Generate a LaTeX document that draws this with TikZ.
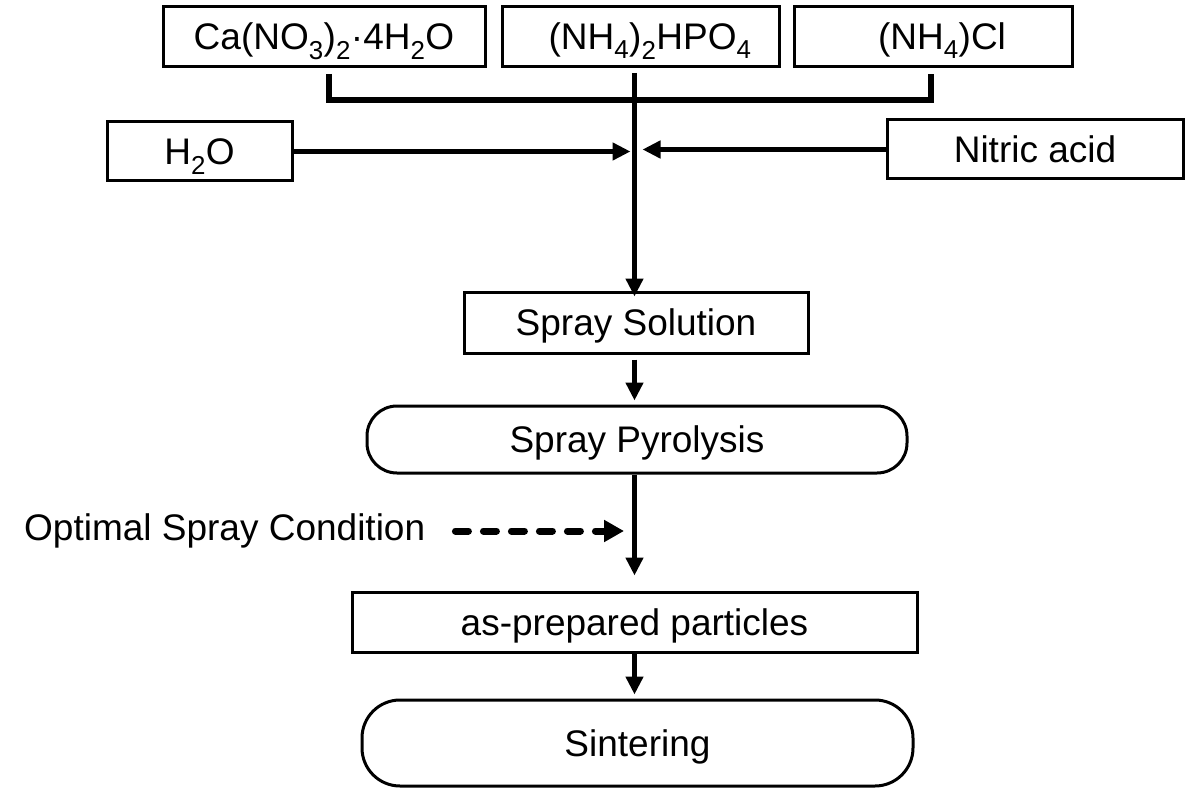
\documentclass[tikz,border=0pt]{standalone}
\usepackage{fontspec}
\setmainfont{Liberation Sans}
\usetikzlibrary{arrows.meta}
\begin{document}
\begin{tikzpicture}[x=1pt,y=-1pt,
  every node/.style={font=\fontsize{37}{40}\selectfont, inner sep=0pt},
  box/.style={draw, line width=3pt, rectangle, text height=26.5pt, text depth=0pt},
  capsule/.style={box},
  conn/.style={line width=5.5pt},
  arr/.style={conn, -{Triangle[length=18pt,width=17pt]}},
  dasharr/.style={line width=7pt, line cap=round, dash pattern=on 13pt off 15pt, -{Triangle[length=20pt,width=21pt]}}
]
\useasboundingbox (0,0) rectangle (1187,789);
\fill[white] (0,0) rectangle (1187,789);

\node[box, minimum width=322pt, minimum height=60pt] (ca) at (324,36.5) {Ca(NO\textsubscript{3})\textsubscript{2}·4H\textsubscript{2}O};
\node[box, minimum width=277pt, minimum height=60pt] (hpo) at (640.5,36.5) {\hspace*{19pt}(NH\textsubscript{4})\textsubscript{2}HPO\textsubscript{4}};
\node[box, minimum width=278pt, minimum height=60pt] (cl) at (933,36.5) {\hspace*{18pt}(NH\textsubscript{4})Cl};
\node[box, minimum width=185pt, minimum height=59pt] (h2o) at (199.5,151.5) {H\textsubscript{2}O};
\node[box, minimum width=296pt, minimum height=59pt] (nit) at (1035,149.5) {Nitric acid};
\node[box, minimum width=344pt, minimum height=61pt] (sol) at (636,322.5) {Spray Solution};
\node[capsule, rounded corners=30pt, minimum width=540pt, minimum height=67pt] (pyr) at (637,439.5) {Spray Pyrolysis};
\node[anchor=base west] (cond) at (24,540) {Optimal Spray Condition};
\node[box, minimum width=565pt, minimum height=60pt] (ap) at (634.5,622) {as-prepared particles};
\node[capsule, rounded corners=38pt, minimum width=551pt, minimum height=86pt] (sin) at (637.5,743) {Sintering};

\coordinate (axis) at (634.5,0);
\coordinate (bar) at (634.5,100);
\coordinate (hmid) at (634.5,151);
\coordinate (dtip) at (624,531);

% bracket joining the three reagents
\draw[conn] ([xshift=5pt,yshift=-6pt]ca.south) |- (bar) -| ([xshift=-2pt,yshift=-6pt]cl.south);
% main vertical line
\draw[arr] ([yshift=-5pt]hpo.south -| axis) -- ([yshift=-6pt]sol.north -| axis);
% side inputs
\draw[arr] (h2o.east) -- ([xshift=-4pt]h2o.east -| hmid);
\draw[arr] (nit.west) -- ([xshift=8pt]nit.west -| hmid);
% flow
\draw[arr] ([yshift=-5pt]sol.south -| axis) -- ([yshift=4pt]pyr.north -| axis);
\draw[arr] (pyr.south -| axis) -- ([yshift=15pt]ap.north -| axis);
\draw[arr] (ap.south -| axis) -- ([yshift=4pt]sin.north -| axis);
% dashed condition arrow
\draw[dasharr] ([xshift=30pt]cond.east |- dtip) -- (dtip);
\end{tikzpicture}
\end{document}
